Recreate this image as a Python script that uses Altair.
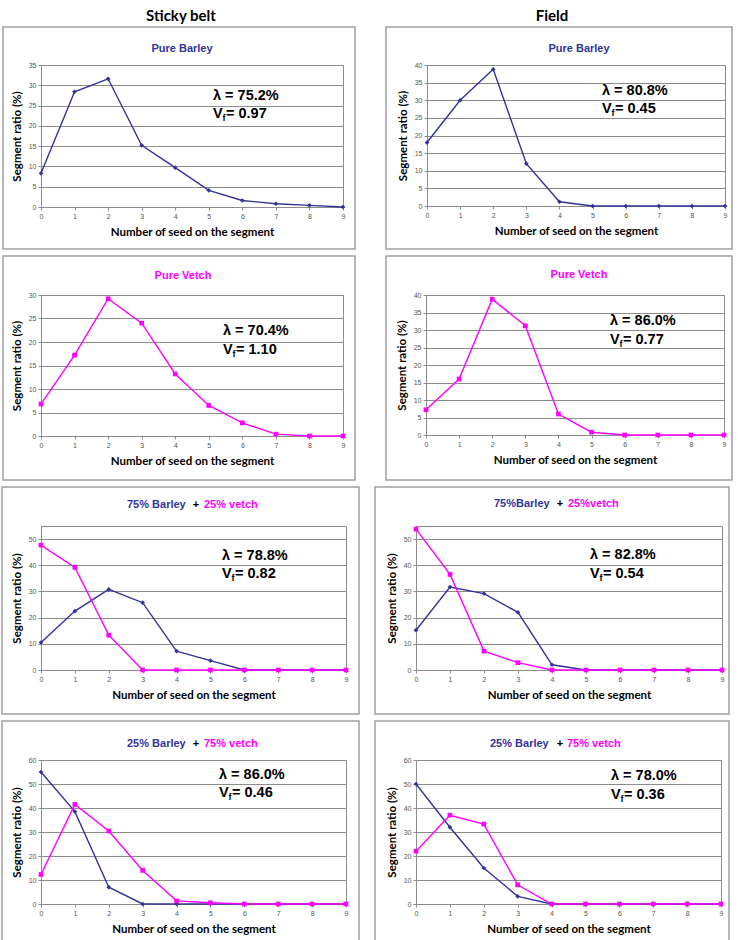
import altair as alt
import pandas as pd

# ---------------- data ----------------
seeds = [0, 1, 2, 3, 4, 5, 6, 7, 8, 9]

sb_pure_barley = [8.3, 28.4, 31.6, 15.2, 9.7, 4.1, 1.6, 0.8, 0.4, 0.0]
fd_pure_barley = [18.0, 30.0, 38.8, 12.0, 1.2, 0.0, 0.0, 0.0, 0.0, 0.0]
sb_pure_vetch = [6.8, 17.2, 29.2, 24.0, 13.2, 6.5, 2.8, 0.4, 0.0, 0.0]
fd_pure_vetch = [7.2, 16.0, 38.8, 31.2, 6.0, 0.8, 0.0, 0.0, 0.0, 0.0]
sb_75_barley = [10.5, 22.5, 30.8, 25.7, 7.2, 3.6, 0.0, 0.0, 0.0, 0.0]
sb_75_vetch = [47.7, 39.2, 13.3, 0.0, 0.0, 0.0, 0.0, 0.0, 0.0, 0.0]
fd_75_barley = [15.2, 31.7, 29.2, 22.0, 2.0, 0.0, 0.0, 0.0, 0.0, 0.0]
fd_75_vetch = [53.8, 36.5, 7.2, 2.8, 0.0, 0.0, 0.0, 0.0, 0.0, 0.0]
sb_25_barley = [55.0, 38.5, 7.0, 0.0, 0.0, 0.0, 0.0, 0.0, 0.0, 0.0]
sb_25_vetch = [12.3, 41.5, 30.4, 14.0, 1.3, 0.5, 0.0, 0.0, 0.0, 0.0]
fd_25_barley = [50.0, 32.0, 15.0, 3.2, 0.0, 0.0, 0.0, 0.0, 0.0, 0.0]
fd_25_vetch = [22.0, 37.0, 33.3, 8.0, 0.0, 0.0, 0.0, 0.0, 0.0, 0.0]

panel_series = [
    [("barley", sb_pure_barley)],
    [("barley", fd_pure_barley)],
    [("vetch", sb_pure_vetch)],
    [("vetch", fd_pure_vetch)],
    [("barley", sb_75_barley), ("vetch", sb_75_vetch)],
    [("barley", fd_75_barley), ("vetch", fd_75_vetch)],
    [("barley", sb_25_barley), ("vetch", sb_25_vetch)],
    [("barley", fd_25_barley), ("vetch", fd_25_vetch)],
]

column_titles = ["Sticky belt", "Field"]
panel_titles = [
    ["Pure Barley"], ["Pure Barley"],
    ["Pure Vetch"], ["Pure Vetch"],
    ["75% Barley", "+", "25% vetch"], ["75%Barley", "+", "25%vetch"],
    ["25% Barley", "+", "75% vetch"], ["25% Barley", "+", "75% vetch"],
]
lambda_labels = ["λ = 75.2%", "λ = 80.8%", "λ = 70.4%", "λ = 86.0%",
                 "λ = 78.8%", "λ = 82.8%", "λ = 86.0%", "λ = 78.0%"]
vf_values = ["= 0.97", "= 0.45", "= 1.10", "= 0.77",
             "= 0.82", "= 0.54", "= 0.46", "= 0.36"]
y_max = [35, 40, 30, 40, 55, 55, 60, 60]
y_ticks = [
    [0, 5, 10, 15, 20, 25, 30, 35],
    [0, 5, 10, 15, 20, 25, 30, 35, 40],
    [0, 5, 10, 15, 20, 25, 30],
    [0, 5, 10, 15, 20, 25, 30, 35, 40],
    [0, 10, 20, 30, 40, 50],
    [0, 10, 20, 30, 40, 50],
    [0, 10, 20, 30, 40, 50, 60],
    [0, 10, 20, 30, 40, 50, 60],
]
x_title = "Number of seed on the segment"
y_title = "Segment ratio (%)"

# ---------------- styles / layout ----------------
NAVY = "#333399"
MAGENTA = "#FF00FF"
GRID = "#8c8c8c"
BOX = "#a0a0a0"
SERIES_STYLE = {"barley": (NAVY, "diamond"), "vetch": (MAGENTA, "square")}
TITLE_COLORS = {"Barley": NAVY, "Vetch": MAGENTA, "vetch": MAGENTA, "+": "#000000"}

layout = [
    dict(w=302, h=142, box=(-38, 314, -38, 184), title=[(141, -16, "center")], lam=(172, 31, 49)),
    dict(w=298, h=141, box=(-41, 305, -38, 184), title=[(152, -16, "center")], lam=(175, 26, 44)),
    dict(w=302, h=141, box=(-38, 314, -39, 185), title=[(142, -19, "center")], lam=(182, 36, 55)),
    dict(w=298, h=140, box=(-40, 306, -39, 185), title=[(153, -20, "center")], lam=(184, 26, 45)),
    dict(w=305, h=144, box=(-39, 318, -39, 188),
         title=[(86, -21, "left"), (155, -21, "center"), (163, -21, "left")], lam=(181, 30, 48)),
    dict(w=306, h=144, box=(-41, 313, -39, 188),
         title=[(78, -22, "left"), (144, -22, "center"), (152, -22, "left")], lam=(174, 29, 48)),
    dict(w=305, h=144, box=(-39, 318, -39, 186),
         title=[(86, -16, "left"), (155, -16, "center"), (163, -16, "left")], lam=(178, 15, 33)),
    dict(w=305, h=144, box=(-41, 313, -39, 188),
         title=[(74, -16, "left"), (144, -16, "center"), (151, -16, "left")], lam=(195, 16, 35)),
]
header_pos = [(140, -49), (125, -49)]


def text_layer(txt, x, y, size, color, font="Liberation Sans", weight="bold",
               align="left", baseline="middle"):
    return alt.Chart(pd.DataFrame({"t": [txt]})).mark_text(
        align=align, baseline=baseline, font=font, fontSize=size,
        fontWeight=weight, color=color
    ).encode(x=alt.value(x), y=alt.value(y), text="t:N")


def title_color(part):
    for key, col in TITLE_COLORS.items():
        if key in part:
            return col
    return "#000000"


def panel(i):
    L = layout[i]
    w, h = L["w"], L["h"]
    x_enc = alt.X("seed:Q",
                  scale=alt.Scale(domain=[0, 9], nice=False, zero=False),
                  axis=alt.Axis(values=seeds, format="d", title=x_title, grid=False,
                                labelFlush=False, tickSize=3, labelPadding=2,
                                titleY=25, titleBaseline="middle"))
    y_enc = alt.Y("ratio:Q",
                  scale=alt.Scale(domain=[0, y_max[i]], nice=False),
                  axis=alt.Axis(values=y_ticks[i], title=y_title, grid=True,
                                tickSize=3, labelPadding=2,
                                titleX=-24, titleY=h / 2, titleAngle=270,
                                titleAlign="center", titleBaseline="middle"))
    bx0, bx1, by0, by1 = L["box"]
    layers = [
        alt.Chart(pd.DataFrame({"b": [1]})).mark_rect(
            fill="#ffffff", fillOpacity=0, stroke=BOX, strokeWidth=1.5
        ).encode(x=alt.value(bx0), x2=alt.value(bx1), y=alt.value(by0), y2=alt.value(by1))
    ]
    for name, vals in panel_series[i]:
        col, shape = SERIES_STYLE[name]
        df = pd.DataFrame({"seed": seeds, "ratio": vals})
        base = alt.Chart(df).encode(x=x_enc, y=y_enc)
        layers.append(base.mark_line(color=col, strokeWidth=1.4))
        layers.append(base.mark_point(shape=shape, filled=True, color=col, size=22, opacity=1))
    for part, (tx, ty, al) in zip(panel_titles[i], L["title"]):
        layers.append(text_layer(part, tx, ty, 11, title_color(part), align=al))
    lx, ly, vy = L["lam"]
    layers.append(text_layer(lambda_labels[i], lx, ly, 14.5, "#000000"))
    layers.append(text_layer("V", lx, vy, 14.5, "#000000"))
    layers.append(text_layer("f", lx + 9.5, vy + 4, 9, "#000000"))
    layers.append(text_layer(vf_values[i], lx + 13, vy, 14.5, "#000000"))
    if i < 2:
        hx, hy = header_pos[i]
        layers.append(text_layer(column_titles[i], hx, hy, 15, "#000000", font="Lato",
                                 align="center"))
    return alt.layer(*layers).properties(width=w, height=h)


rows = [
    alt.hconcat(panel(0), panel(1), spacing=27),
    alt.hconcat(panel(2), panel(3), spacing=27),
    alt.hconcat(panel(4), panel(5), spacing=12),
    alt.hconcat(panel(6), panel(7), spacing=12),
]

chart = alt.vconcat(*rows, spacing=3).properties(
    padding={"left": 0, "top": 8, "right": 2, "bottom": 0},
    background="#ffffff",
).configure_view(
    stroke=GRID, strokeWidth=1
).configure_axis(
    gridColor=GRID, gridWidth=1, domainColor=GRID, tickColor=GRID,
    labelFont="Liberation Sans", labelFontSize=7, labelColor="#555555",
    titleFont="Lato", titleFontSize=11.5, titleFontWeight="bold", titleColor="#000000",
)

chart.save("out.html", embed_options={"renderer": "svg", "actions": False})
